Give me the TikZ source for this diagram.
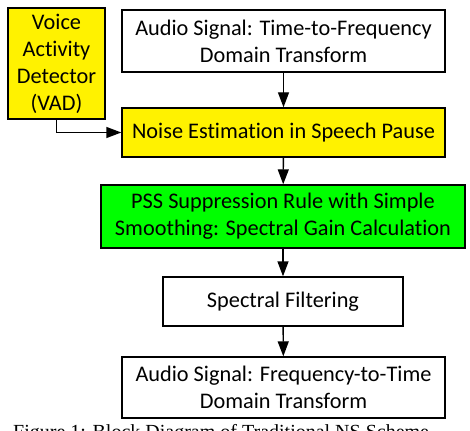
\documentclass[tikz,border=0pt]{standalone}
\usepackage{fontspec}
\setmainfont{Carlito}[Ligatures={NoCommon}]
\newfontfamily\capfont{Liberation Serif}
\usetikzlibrary{arrows.meta}

\begin{document}
\begin{tikzpicture}[x=1pt,y=-1pt,
		blk/.style={draw, line width=1.4pt, inner sep=0pt, align=center, font=\fontsize{22.3}{27}\selectfont},
		flow/.style={line width=1.4pt, -{Triangle[length=15pt,width=11pt]}}]
		\useasboundingbox (0,0) rectangle (470,430);

		\node[blk, fill=yellow, minimum width=97pt, minimum height=111pt] (vad) at (56.5,63.5) {Voice\\Activity\\Detector\\(VAD)};
		\node[blk, minimum width=323pt, minimum height=62pt] (t2f) at (283.5,41) {Audio Signal: Time-to-Frequency\\Domain Transform};
		\node[blk, fill=yellow, minimum width=323pt, minimum height=49pt] (noise) at (283.5,132.5) {Noise Estimation in Speech Pause};
		\node[blk, fill=green, minimum width=364pt, minimum height=63pt] (gain) at (283,216.5) {PSS Suppression Rule with Simple\\Smoothing: Spectral Gain Calculation};
		\node[blk, minimum width=240pt, minimum height=49pt] (filt) at (283,301.5) {Spectral Filtering};
		\node[blk, minimum width=323pt, minimum height=61pt] (f2t) at (283.5,387.5) {Audio Signal: Frequency-to-Time\\Domain Transform};

		\draw [flow] (t2f) -- (noise);
		\draw [flow] (vad.south) |- (noise.west);
		\draw [flow] (noise) -- (gain);
		\draw [flow] (gain) -- (filt);
		\draw [flow] (filt) -- (f2t);

		% caption, cut by the page edge
		\begin{scope}
			\clip (0,0) rectangle (470,430);
			\node[anchor=base west, inner sep=0pt, font=\capfont\fontsize{20}{24}\selectfont] (cap) at (13,438) {Figure 1: Block Diagram of Traditional NS Scheme};
		\end{scope}
	\end{tikzpicture}
\end{document}
